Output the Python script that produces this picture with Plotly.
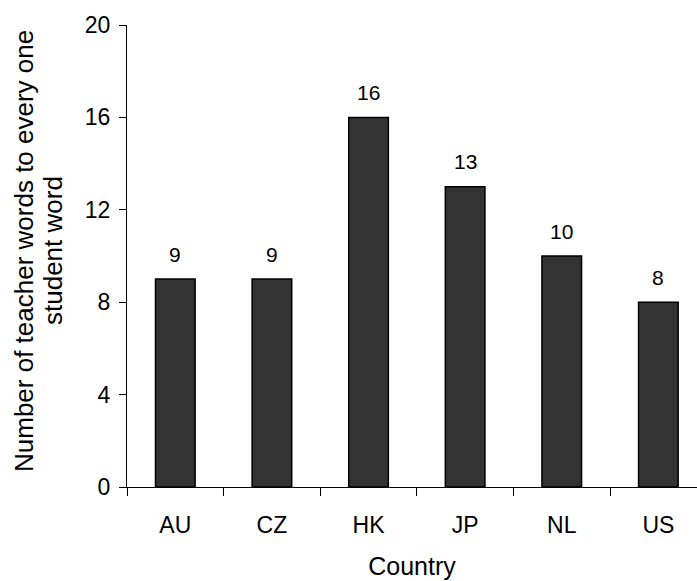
import plotly.graph_objects as go

countries = ["AU", "CZ", "HK", "JP", "NL", "US"]
ratios = [9, 9, 16, 13, 10, 8]
y_ticks = [0, 4, 8, 12, 16, 20]
y_title_lines = ["Number of teacher words to every one", "student word"]

font = "Liberation Sans, Arial, sans-serif"

W, H = 697, 581
ML, MR, MT, MB = 127, 0, 25, 94
plot_w = W - ML - MR
plot_h = H - MT - MB

fig = go.Figure()
fig.add_trace(go.Bar(
    x=countries, y=ratios,
    marker=dict(color="#333333", line=dict(color="#000000", width=1.5)),
    width=0.41,
))

for c, v in zip(countries, ratios):
    fig.add_annotation(x=c, y=v, text=str(v), showarrow=False,
                       yanchor="middle", yshift=25,
                       font=dict(family=font, size=21, color="#000000"))

# two-line y-axis title (as rotated annotations for tight line spacing)
for line, px in zip(y_title_lines, [24, 53]):
    fig.add_annotation(xref="paper", yref="paper",
                       x=(px - ML) / plot_w, y=(H - MB - 251) / plot_h,
                       xanchor="center", yanchor="middle",
                       text=line, textangle=-90, showarrow=False,
                       font=dict(family=font, size=26, color="#000000"))

fig.update_layout(
    width=W, height=H,
    margin=dict(l=ML, r=MR, t=MT, b=MB),
    paper_bgcolor="white", plot_bgcolor="white",
    showlegend=False,
    font=dict(family=font, color="#000000"),
    xaxis=dict(
        range=[-0.5, 5.4],
        showline=True, linecolor="#000000", linewidth=1,
        ticks="outside", tickson="boundaries", ticklen=8, tickcolor="#000000",
        tickfont=dict(size=23), showgrid=False, ticklabelstandoff=17,
        title=dict(text="Country", font=dict(size=25), standoff=20),
    ),
    yaxis=dict(
        range=[0, 20], tickvals=y_ticks,
        showline=True, linecolor="#000000", linewidth=1,
        ticks="outside", ticklen=7, tickcolor="#000000",
        tickfont=dict(size=23), showgrid=False, zeroline=False,
        ticklabelstandoff=4,
    ),
)

fig.write_html("out.html", config={"displayModeBar": False},
               post_script="document.body.style.margin='0';document.body.style.overflow='hidden';")
